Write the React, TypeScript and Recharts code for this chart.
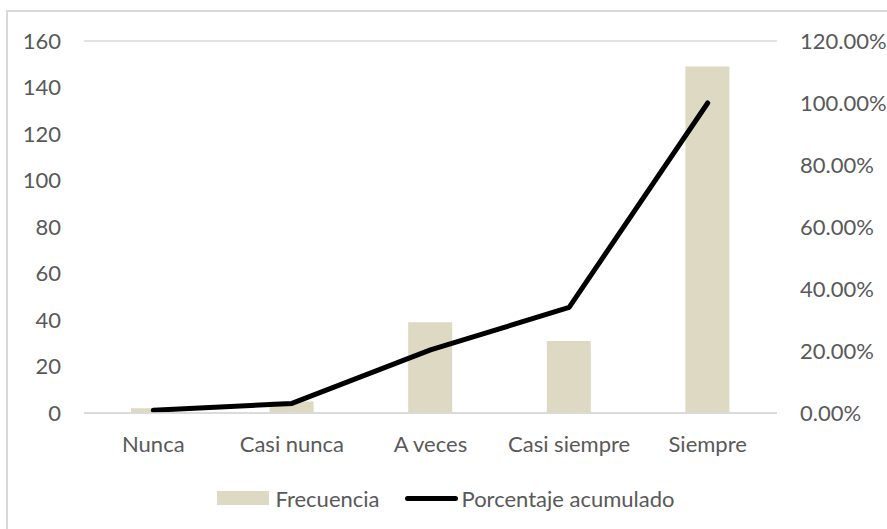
import { ComposedChart, Bar, Line, XAxis, YAxis, CartesianGrid, Legend } from "recharts";

const categories = ["Nunca", "Casi nunca", "A veces", "Casi siempre", "Siempre"];
const frecuencia = [2, 5, 39, 31, 149];
const acumulado = [0.0088, 0.031, 0.2035, 0.3407, 1.0];
const leftTicks = [0, 20, 40, 60, 80, 100, 120, 140, 160];
const rightTicks = [0, 0.2, 0.4, 0.6, 0.8, 1.0, 1.2];

const FONT = "Lato, 'Open Sans', sans-serif";
const TEXT = "#595959";
const BAR = "#ddd9c3";

const data = categories.map((name, i) => ({ name, frecuencia: frecuencia[i], acumulado: acumulado[i] }));

function LegendBox() {
  return (
    <div style={{ display: "flex", justifyContent: "center", alignItems: "center", height: 28, fontFamily: FONT, fontSize: 22, color: TEXT, marginLeft: 1 }}>
      <span style={{ width: 52, height: 14, background: BAR, marginRight: 6 }} />
      <span style={{ marginRight: 25 }}>Frecuencia</span>
      <span style={{ width: 53, height: 5, borderRadius: 3, background: "#000", marginRight: 4 }} />
      <span>Porcentaje acumulado</span>
    </div>
  );
}

export default function App() {
  return (
    <div style={{ position: "absolute", left: 0, top: 0, width: 887, height: 529, background: "#fff" }}>
      <div style={{ position: "absolute", left: 6, top: 10, right: 0, bottom: 0, borderLeft: "2px solid #d9d9d9", borderTop: "2px solid #d9d9d9" }} />
      <ComposedChart width={887} height={529} data={data} margin={{ top: 41, right: 20, bottom: 17, left: 24 }}
        style={{ position: "absolute", left: 0, top: 0 }}>
        <CartesianGrid vertical={false} stroke="#d9d9d9" strokeWidth={1.5} />
        <XAxis dataKey="name" axisLine={{ stroke: "#d9d9d9", strokeWidth: 1.5 }} tickLine={false} tickSize={0} tickMargin={23}
          height={71} interval={0} tick={{ fill: TEXT, fontSize: 22, fontFamily: FONT }} />
        <YAxis yAxisId="left" width={60} domain={[0, 160]} ticks={leftTicks} axisLine={false} tickLine={false}
          tickSize={0} tickMargin={23} tick={{ fill: TEXT, fontSize: 22, fontFamily: FONT }} />
        <YAxis yAxisId="right" orientation="right" width={90} domain={[0, 1.2]} ticks={rightTicks} axisLine={false}
          tickLine={false} tickSize={0} tickMargin={23} tickFormatter={(v: number) => `${(v * 100).toFixed(2)}%`}
          tick={{ fill: TEXT, fontSize: 22, fontFamily: FONT, textAnchor: "start" }} />
        <Bar yAxisId="left" dataKey="frecuencia" name="Frecuencia" fill={BAR} barSize={44} isAnimationActive={false} />
        <Line yAxisId="right" type="linear" dataKey="acumulado" name="Porcentaje acumulado" stroke="#000" strokeWidth={5}
          strokeLinecap="round" strokeLinejoin="round" dot={false} activeDot={false} isAnimationActive={false} />
        <Legend verticalAlign="bottom" height={28} content={() => <LegendBox />} />
      </ComposedChart>
    </div>
  );
}
